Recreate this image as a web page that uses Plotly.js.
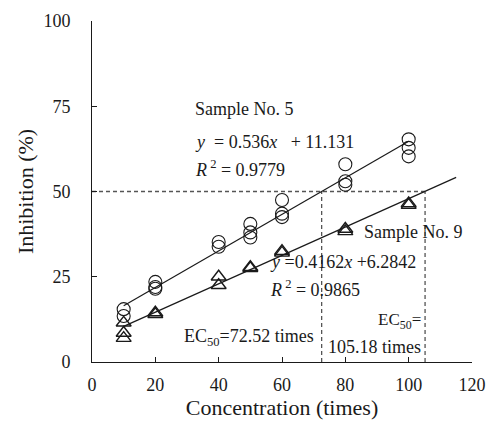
<!DOCTYPE html>
<html>
<head>
<meta charset="utf-8">
<script src="https://cdn.plot.ly/plotly-3.0.1.min.js"></script>
<style>html,body{margin:0;padding:0;background:#fff;}#chart{width:486px;height:429px;}</style>
</head>
<body>
<div id="chart"></div>
<script>
// Sample No. 5 (circles)
var s5X = [10, 10, 20, 20, 20, 40, 40, 50, 50, 50, 60, 60, 60, 80, 80, 80, 100, 100, 100];
var s5Y = [15.5, 13.5, 23.5, 22, 21.5, 35.2, 33.8, 40.5, 38, 36.5, 47.5, 43.5, 42.5, 58, 53, 52, 65.3, 62.8, 60.3];
// Sample No. 9 (triangles)
var s9X = [10, 10, 10, 20, 20, 40, 40, 50, 50, 60, 60, 80, 80, 100, 100];
var s9Y = [11.5, 8.5, 7, 14.5, 14, 25, 22.5, 27.8, 27.5, 32.5, 32, 39, 38.3, 46.5, 46];
// Regression line end points (from displayed equations)
var fit5X = [10, 100];
var fit5Y = [16.49, 64.73];
var fit9X = [10, 115];
var fit9Y = [10.45, 54.15];
// EC50 guides
var ec50 = [72.52, 105.18];
var half = 50;
var xTicks = [0, 20, 40, 60, 80, 100, 120];
var yTicks = [0, 25, 50, 75, 100];

var serif = '"Liberation Serif", "Times New Roman", serif';
var ink = '#1a1a1a';
var guide = {color: '#555', width: 1.3, dash: '4px,3px'};

var traces = [
  {x: [0, ec50[1]], y: [half, half], mode: 'lines', line: guide, hoverinfo: 'skip'},
  {x: [ec50[0], ec50[0]], y: [0, half], mode: 'lines', line: guide, hoverinfo: 'skip'},
  {x: [ec50[1], ec50[1]], y: [0, half], mode: 'lines', line: guide, hoverinfo: 'skip'},
  {x: fit5X, y: fit5Y, mode: 'lines', line: {color: ink, width: 1.2}},
  {x: fit9X, y: fit9Y, mode: 'lines', line: {color: ink, width: 1.2}},
  {x: s5X, y: s5Y, mode: 'markers', marker: {symbol: 'circle-open', size: 13, color: ink, line: {width: 1.1, color: ink}}},
  {x: s9X, y: s9Y, mode: 'markers', marker: {symbol: 'triangle-up-open', size: 13, color: ink, line: {width: 1.4, color: ink}}}
];

function ann(x, y, text, anchor, size) {
  return {x: x, y: y, xref: 'x', yref: 'y', text: text, showarrow: false,
          xanchor: anchor || 'left', yanchor: 'middle', font: {family: serif, size: size || 18, color: ink}};
}

var layout = {
  width: 486, height: 429,
  margin: {l: 92, r: 14, t: 21, b: 67},
  paper_bgcolor: '#fff', plot_bgcolor: '#fff',
  showlegend: false,
  font: {family: serif, size: 18, color: ink},
  xaxis: {
    range: [0, 120], tickvals: xTicks, ticktext: xTicks.map(String),
    showgrid: false, zeroline: false, showline: true, linecolor: ink, linewidth: 1,
    ticks: 'inside', ticklen: 5, tickcolor: ink, ticklabelstandoff: 6,
    tickfont: {family: serif, size: 18, color: ink},
    title: {text: 'Concentration (times)', font: {family: serif, size: 22, color: ink}, standoff: 5}
  },
  yaxis: {
    range: [0, 100], tickvals: yTicks, ticktext: yTicks.map(String),
    showgrid: false, zeroline: false, showline: true, linecolor: ink, linewidth: 1,
    ticks: 'inside', ticklen: 5, tickcolor: ink, ticklabelstandoff: 17,
    tickfont: {family: serif, size: 18, color: ink},
    title: {text: 'Inhibition (%)', font: {family: serif, size: 22, color: ink}, standoff: 3}
  },
  annotations: [
    ann(31.9, 74.3, 'Sample No. 5'),
    ann(31.9, 64.6, '<i>y</i>  = 0.536<i>x</i>   + 11.131'),
    ann(31.9, 56.7, '<i>R</i><sup> 2</sup> = 0.9779'),
    ann(85.3, 38.0, 'Sample No. 9'),
    ann(55.6, 29.2, '<i>y</i> =0.4162<i>x</i> +6.2842'),
    ann(55.6, 21.6, '<i>R</i><sup> 2</sup> = 0.9865'),
    ann(28.4, 7.3, 'EC<sub>50</sub>=72.52 times'),
    ann(104.6, 11.9, 'EC<sub>50</sub>=', 'right', 17),
    ann(73.9, 4.4, '105.18 times')
  ]
};

Plotly.newPlot('chart', traces, layout, {staticPlot: true, displayModeBar: false});
</script>
</body>
</html>
